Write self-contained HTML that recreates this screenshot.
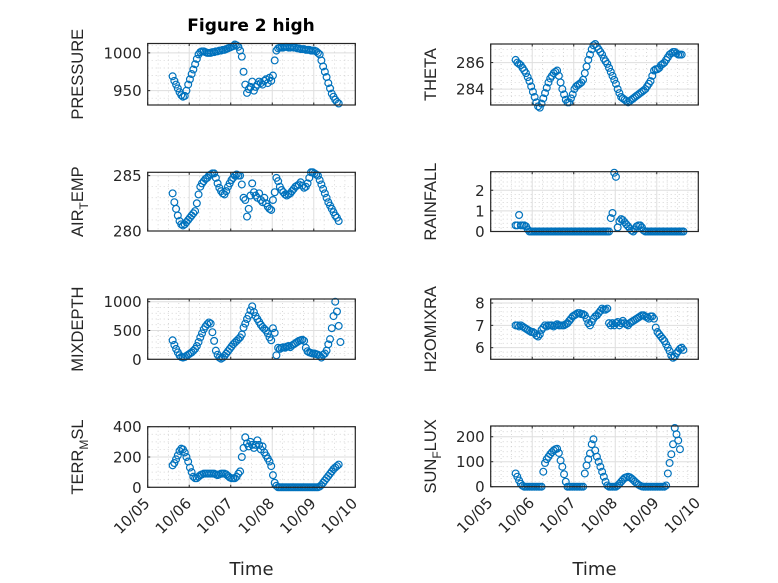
<!DOCTYPE html>
<html><head><meta charset="utf-8">
<style>
html,body{margin:0;padding:0;background:#fff;}
svg{display:block;font-family:"DejaVu Sans","Liberation Sans",sans-serif;}
</style></head>
<body>
<svg id="fig" width="778" height="583" viewBox="0 0 778 583" xmlns="http://www.w3.org/2000/svg">
<rect width="778" height="583" fill="#fff"/>
<text x="251" y="31" text-anchor="middle" font-size="17" font-weight="bold" fill="#000">Figure 2 high</text>
</svg>
<script>
// hourly samples starting 10/05 ~14:24 (t0 = 0.6 days)
const t0 = 0.6;
const xTickLabels = ["10/05","10/06","10/07","10/08","10/09","10/10"];
const pressure = [969,963,958,953,948,944,942,943,950,958,965,972,978,985,992,998,1001,1002,1002,1001,1000,1000,1000,1001,1001,1002,1002,1003,1003,1004,1004,1005,1006,1007,1008,1009,1011,1010,1008,1003,995,975,958,947,952,955,962,950,955,958,962,960,958,963,965,960,967,963,970,990,1003,1006,1007,1007,1007,1008,1008,1007,1007,1008,1007,1007,1006,1006,1005,1005,1005,1004,1004,1004,1003,1003,1003,1002,1000,998,990,982,975,968,960,953,946,942,938,935,933];
const theta = [286.2,286.0,285.9,285.8,285.6,285.4,285.2,284.9,284.6,284.2,283.8,283.4,283.0,282.7,282.6,282.9,283.3,283.7,284.1,284.5,284.8,285.0,285.2,285.3,285.4,285.0,284.5,284.0,283.6,283.2,283.0,283.0,283.3,283.6,284.0,284.2,284.3,284.4,284.5,284.7,285.2,285.7,286.2,286.6,287.0,287.3,287.4,287.2,287.0,286.8,286.6,286.3,286.1,285.9,285.6,285.3,285.0,284.7,284.4,284.0,283.7,283.4,283.3,283.2,283.1,283.0,283.1,283.2,283.3,283.4,283.5,283.6,283.7,283.8,283.9,284.0,284.2,284.4,284.6,285.0,285.4,285.5,285.5,285.6,285.8,285.9,286.0,286.2,286.4,286.6,286.7,286.8,286.8,286.7,286.6,286.6,286.6];
const airTemp = [283.4,282.6,282.0,281.4,280.9,280.6,280.5,280.6,280.8,281.0,281.2,281.4,281.6,281.8,282.5,283.3,284.0,284.3,284.5,284.7,284.8,285.0,285.1,285.2,285.2,284.8,284.3,283.9,283.6,283.4,283.3,283.6,284.0,284.3,284.6,284.8,285.0,285.1,285.0,285.0,284.2,283.0,282.8,281.3,282.0,283.2,284.3,283.5,283.2,283.0,283.4,282.8,282.6,283.0,282.5,282.2,282.0,281.9,282.8,283.5,284.8,284.5,284.0,283.7,283.5,283.3,283.2,283.3,283.4,283.6,283.8,284.0,284.1,284.2,284.4,284.1,283.9,284.0,284.3,284.8,285.3,285.3,285.2,285.1,285.0,284.6,284.2,283.8,283.4,283.0,282.6,282.3,282.0,281.7,281.4,281.2,280.9];
const rainfall = [0.3,0.3,0.8,0.3,0.3,0.3,0.25,0.1,0,0,0,0,0,0,0,0,0,0,0,0,0,0,0,0,0,0,0,0,0,0,0,0,0,0,0,0,0,0,0,0,0,0,0,0,0,0,0,0,0,0,0,0,0,0,0,0.65,0.9,2.85,2.65,0.2,0.5,0.6,0.55,0.45,0.35,0.25,0.15,0.05,0,0.1,0.25,0.3,0.3,0.2,0.05,0,0,0,0,0,0,0,0,0,0,0,0,0,0,0,0,0,0,0,0,0,0,0];
const mixDepth = [330,250,180,120,70,40,30,40,60,80,100,120,150,180,230,300,380,450,520,570,610,640,620,470,320,150,80,30,10,30,60,100,140,180,220,260,290,320,350,380,430,550,620,700,760,850,920,820,750,700,650,600,560,530,500,450,380,330,540,460,70,200,180,200,210,200,220,230,210,240,260,280,300,320,330,340,320,200,140,120,110,100,100,90,80,60,30,80,100,150,260,350,540,750,1000,830,580,300];
const h2oMix = [7.0,7.0,6.95,7.0,6.95,6.9,6.85,6.8,6.75,6.7,6.7,6.65,6.55,6.5,6.6,6.8,6.9,7.0,6.95,7.0,7.0,7.0,6.95,7.0,7.05,7.0,7.0,7.0,7.0,7.05,7.1,7.2,7.3,7.4,7.45,7.5,7.55,7.55,7.5,7.5,7.45,7.3,7.1,7.0,7.15,7.3,7.4,7.45,7.55,7.65,7.75,7.7,7.7,7.75,7.1,7.0,7.1,7.0,7.1,7.15,7.0,7.1,7.2,7.1,7.05,7.0,7.1,7.15,7.2,7.25,7.3,7.35,7.4,7.45,7.45,7.4,7.35,7.3,7.4,7.4,7.3,6.9,6.7,6.6,6.5,6.4,6.3,6.15,6.0,5.85,5.65,5.55,5.6,5.75,5.85,5.95,6.0,5.9];
const terrMsl = [145,160,185,210,240,255,250,230,200,170,130,100,70,60,60,70,80,85,90,90,90,90,90,90,90,85,80,85,90,90,90,85,75,65,60,60,60,70,90,105,200,260,330,290,270,300,280,260,280,310,280,250,270,230,210,190,170,140,80,30,10,0,0,0,0,0,0,0,0,0,0,0,0,0,0,0,0,0,0,0,0,0,0,0,0,5,15,30,45,60,75,90,105,120,130,140,150];
const sunFlux = [53,40,25,12,4,0,0,0,0,0,0,0,0,0,0,0,60,95,110,120,130,138,145,150,152,135,105,80,50,20,0,0,0,0,0,0,0,0,0,0,53,85,110,133,170,190,145,120,100,80,60,40,20,5,0,0,0,0,0,5,12,20,28,35,38,40,38,33,27,20,14,8,4,1,0,0,0,0,0,0,0,0,0,0,0,0,0,5,53,95,130,170,235,210,185,150];

const NS="http://www.w3.org/2000/svg";
const svg=document.getElementById('fig');
function mk(tag,attrs,parent){const e=document.createElementNS(NS,tag);for(const k in attrs)e.setAttribute(k,attrs[k]);(parent||svg).appendChild(e);return e;}

const panels=[
 {key:'pressure',data:pressure,x0:147.7,x1:355.3,y0:43.5,y1:105,lo:931,hi:1012.4,ticks:[950,1000],minor:10,label:['PRESSURE'],col:0,bottom:false},
 {key:'theta',data:theta,x0:490.7,x1:698.3,y0:44,y1:105,lo:282.8,hi:287.4,ticks:[284,286],minor:0.5,label:['THETA'],col:1,bottom:false},
 {key:'air-temp',data:airTemp,x0:147.7,x1:355.3,y0:172.3,y1:231,lo:280,hi:285.3,ticks:[280,285],minor:1,label:['AIR','T','EMP'],col:0,bottom:false},
 {key:'rainfall',data:rainfall,x0:490.7,x1:698.3,y0:171.7,y1:231.5,lo:0,hi:2.9,ticks:[0,1,2],minor:0.2,label:['RAINFALL'],col:1,bottom:false},
 {key:'mixdepth',data:mixDepth,x0:147.7,x1:355.3,y0:299,y1:359.3,lo:0,hi:1047,ticks:[0,500,1000],minor:100,label:['MIXDEPTH'],col:0,bottom:false},
 {key:'h2omixra',data:h2oMix,x0:490.7,x1:698.3,y0:299,y1:359.3,lo:5.48,hi:8.18,ticks:[6,7,8],minor:0.2,label:['H2OMIXRA'],col:1,bottom:false},
 {key:'terr-msl',data:terrMsl,x0:147.7,x1:355.3,y0:426.7,y1:487.3,lo:0,hi:400,ticks:[0,200,400],minor:50,label:['TERR','M','SL'],col:0,bottom:true},
 {key:'sun-flux',data:sunFlux,x0:490.7,x1:698.3,y0:426,y1:486.7,lo:0,hi:243,ticks:[0,100,200],minor:20,label:['SUN','F','LUX'],col:1,bottom:true}
];

panels.forEach(p=>{
  const g=mk('g',{});
  
  
  const xs=d=>p.x0+(d/5)*(p.x1-p.x0);
  const ys=v=>p.y1-(v-p.lo)/(p.hi-p.lo)*(p.y1-p.y0);
  mk('rect',{x:p.x0,y:p.y0,width:p.x1-p.x0,height:p.y1-p.y0,fill:'#fff'},g);
  for(let q=1;q<20;q++){ if(q%4===0)continue; const x=xs(q/4);
    mk('line',{x1:x,x2:x,y1:p.y0,y2:p.y1,stroke:'#c8c8c8','stroke-width':0.7,'stroke-dasharray':'1 3'},g);}
  const s=Math.ceil(p.lo/p.minor-1e-9);
  for(let k=s;k*p.minor<=p.hi+1e-9;k++){const v=k*p.minor; if(p.ticks.some(t=>Math.abs(t-v)<1e-6))continue;
    const y=ys(v); mk('line',{x1:p.x0,x2:p.x1,y1:y,y2:y,stroke:'#c8c8c8','stroke-width':0.7,'stroke-dasharray':'1 3'},g);}
  for(let d=1;d<5;d++){const x=xs(d); mk('line',{x1:x,x2:x,y1:p.y0,y2:p.y1,stroke:'#dedede','stroke-width':1},g);}
  p.ticks.forEach(v=>{const y=ys(v); mk('line',{x1:p.x0,x2:p.x1,y1:y,y2:y,stroke:'#dedede','stroke-width':1},g);
    const t=mk('text',{x:p.x0-6,y:y+5.5,'text-anchor':'end','font-size':15,fill:'#262626'},g); t.textContent=String(v);
    
    
    mk('line',{x1:p.x0,x2:p.x0+2.5,y1:y,y2:y,stroke:'#262626'},g);});
  for(let d=0;d<=5;d++){const x=xs(d);
    mk('line',{x1:x,x2:x,y1:p.y1,y2:p.y1-2.5,stroke:'#262626'},g);
    mk('line',{x1:x,x2:x,y1:p.y0,y2:p.y0+2.5,stroke:'#262626'},g);
    if(p.bottom){const t=mk('text',{x:x+3,y:p.y1+17,'text-anchor':'end','font-size':15,fill:'#262626',transform:`rotate(-45 ${x+3} ${p.y1+17})`},g);
      t.textContent=xTickLabels[d];
      
      }
  }
  p.data.forEach((v,i)=>{const c=mk('circle',{cx:xs(t0+i/24),cy:ys(v),r:3.4,fill:'none',stroke:'#0072BD','stroke-width':1.2},g);
    
    });
  mk('rect',{x:p.x0,y:p.y0,width:p.x1-p.x0,height:p.y1-p.y0,fill:'none',stroke:'#262626','stroke-width':1.2},g);
  const lx=p.col===0?83:436, ly=(p.y0+p.y1)/2;
  const t=mk('text',{x:lx,y:ly,'text-anchor':'middle','font-size':16.5,fill:'#262626',transform:`rotate(-90 ${lx} ${ly})`,style:'font-family:"Liberation Sans",sans-serif'},g);
  
  
  if(p.label.length===1){t.textContent=p.label[0];}
  else{const a=mk('tspan',{},t);a.textContent=p.label[0];
    const b=mk('tspan',{dy:5,'font-size':12},t);b.textContent=p.label[1];
    const c=mk('tspan',{dy:-5},t);c.textContent=p.label[2];}
  if(p.bottom){const tx=(p.x0+p.x1)/2;const xl=mk('text',{x:tx,y:575,'text-anchor':'middle','font-size':18,fill:'#262626'},g);
    xl.textContent='Time';
    
    }
});
</script>
</body></html>
